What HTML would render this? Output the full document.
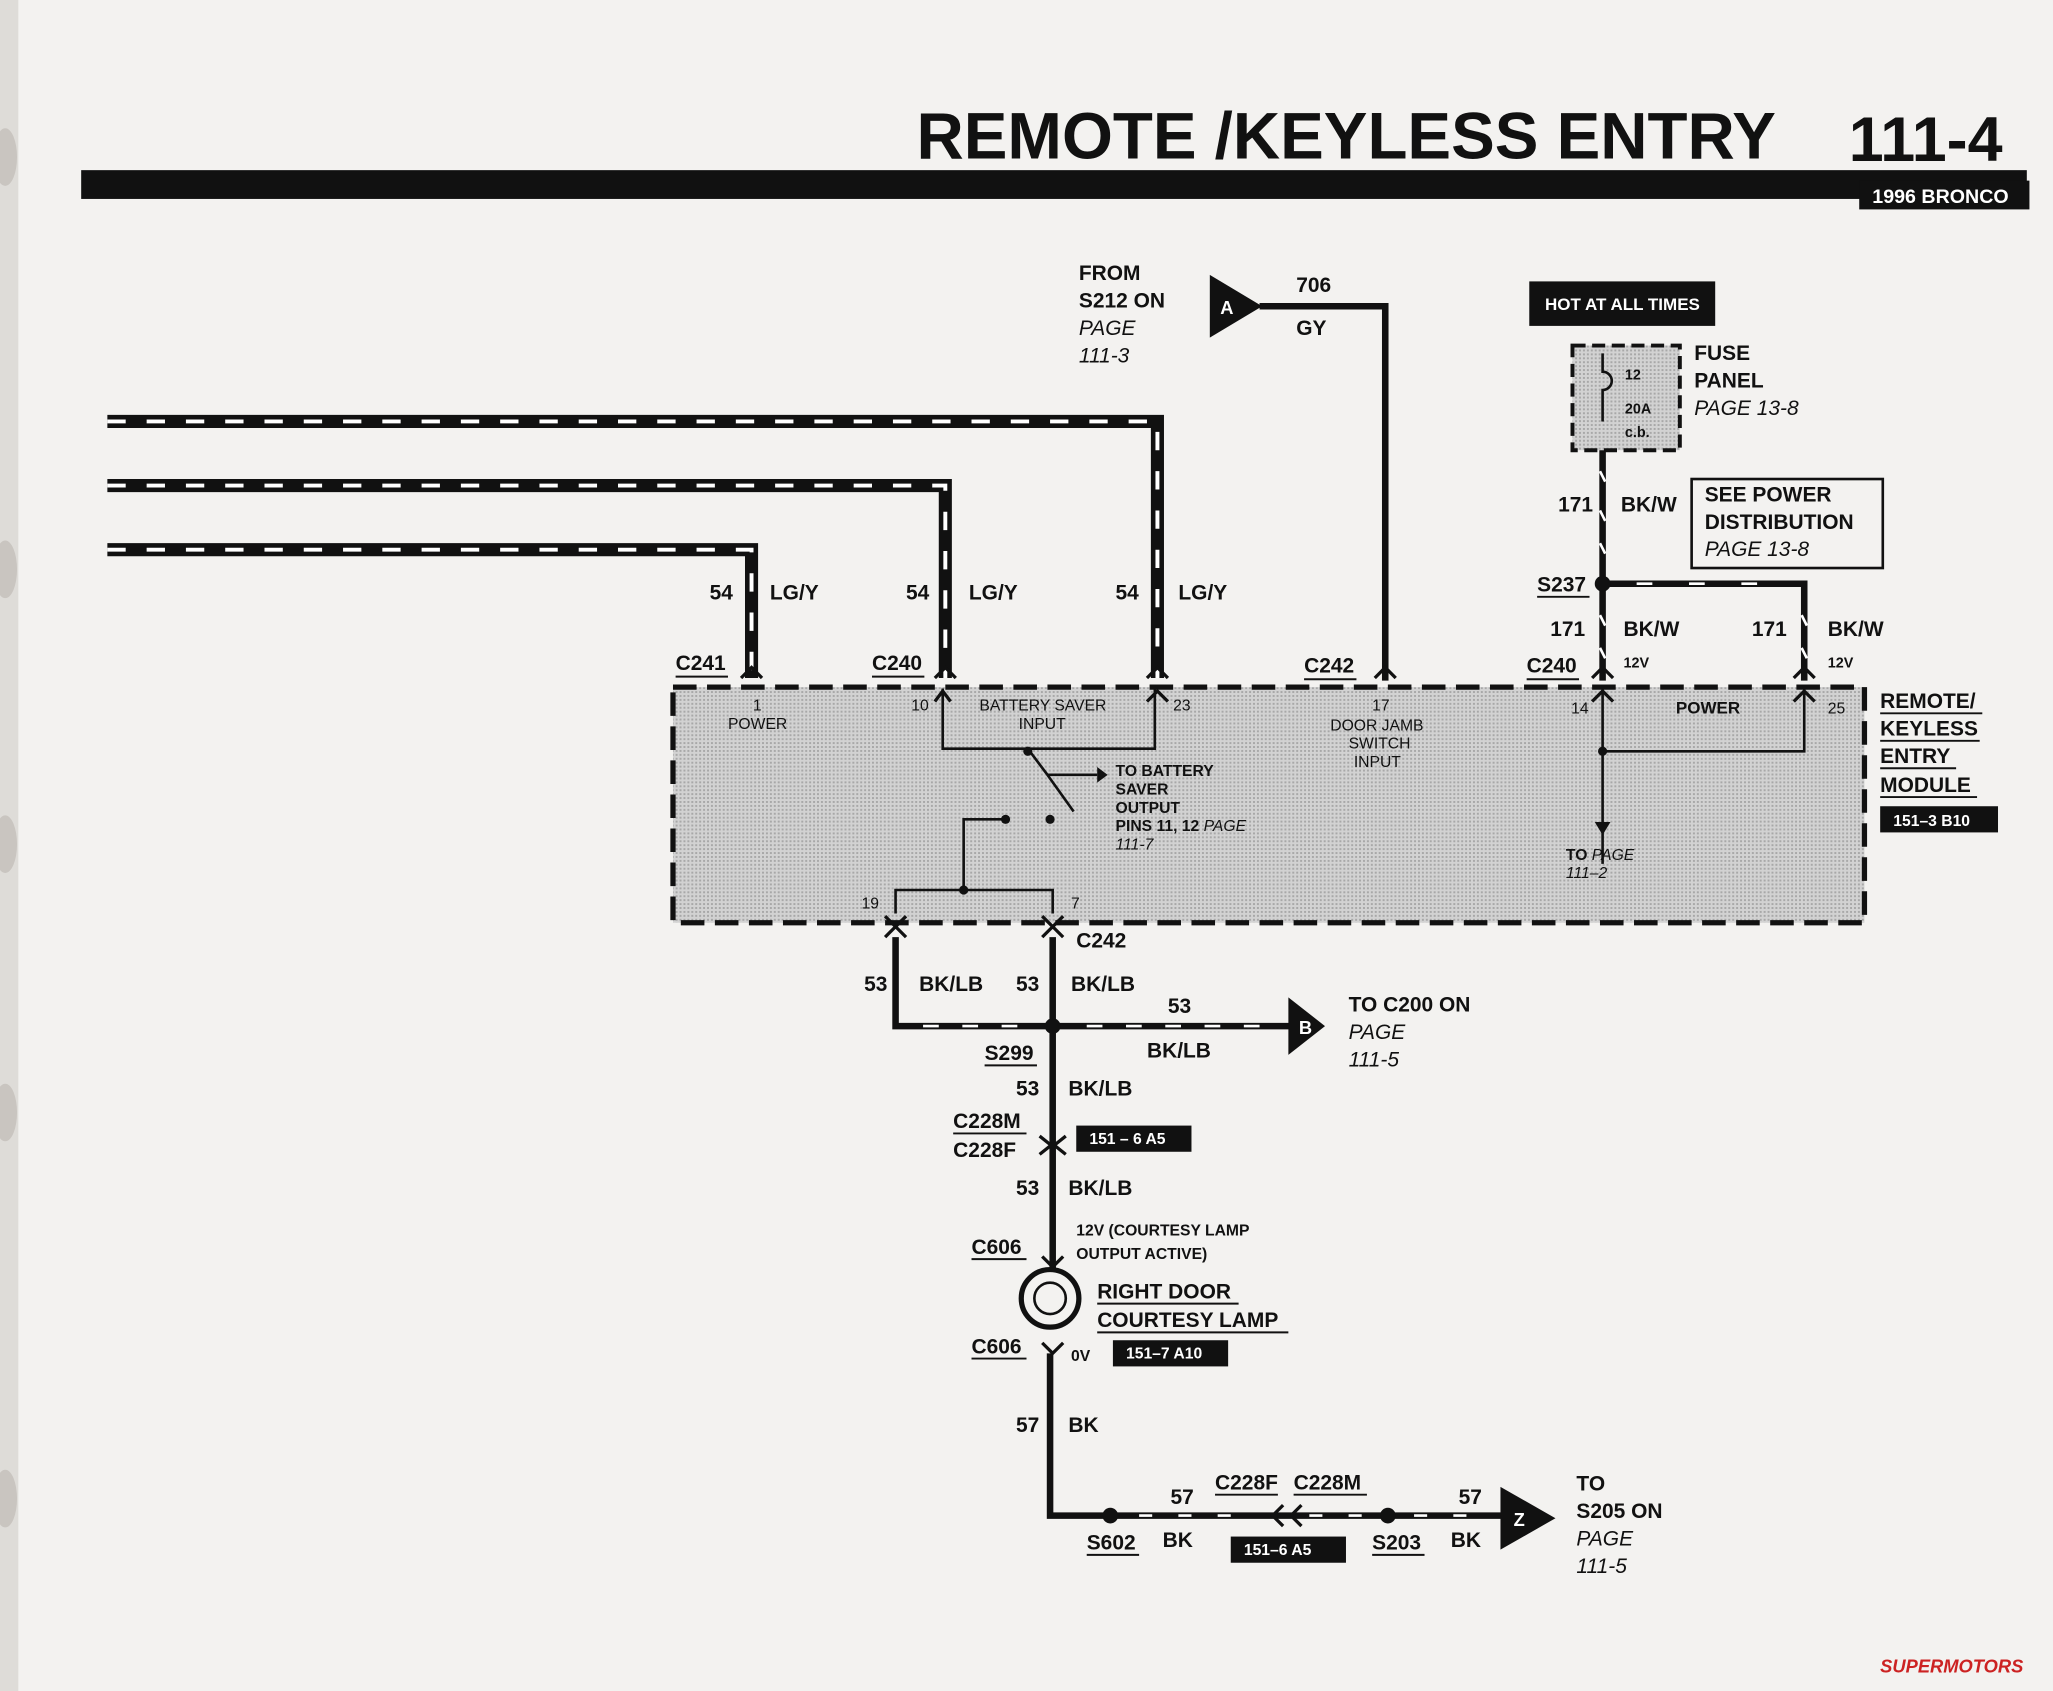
<!DOCTYPE html>
<html><head><meta charset="utf-8">
<style>
html,body{margin:0;padding:0;background:#f4f3f1;}
svg{display:block}
text{font-family:"Liberation Sans",Arial,sans-serif;font-weight:bold;fill:#111}
.i{font-style:italic;font-weight:normal}
.s{font-weight:normal}
</style></head><body>
<svg width="2053" height="1691" viewBox="0 0 1568 1292" preserveAspectRatio="none" xmlns="http://www.w3.org/2000/svg">
<defs>
<pattern id="dots" width="3" height="3" patternUnits="userSpaceOnUse"><rect width="3" height="3" fill="#d2d2d2"/><rect width="1.5" height="1.5" fill="#a8a8a8"/></pattern>
</defs>
<rect width="1568" height="1292" fill="#f3f2f0"/>
<rect width="14" height="1292" fill="#dedcd8"/>
<g fill="#c9c5c0"><ellipse cx="4" cy="120" rx="9" ry="22"/><ellipse cx="4" cy="435" rx="9" ry="22"/><ellipse cx="4" cy="645" rx="9" ry="22"/><ellipse cx="4" cy="850" rx="9" ry="22"/><ellipse cx="4" cy="1145" rx="9" ry="22"/></g>

<!-- header -->
<text x="700" y="121" font-size="50">REMOTE /KEYLESS ENTRY</text>
<text x="1412" y="123" font-size="48">111-4</text>
<rect x="62" y="130" width="1486" height="22" fill="#111"/>
<rect x="1420" y="138" width="130" height="22" fill="#111"/>
<text x="1430" y="155" font-size="15" style="fill:#fff">1996 BRONCO</text>

<!-- LG/Y wires -->
<g fill="none" stroke-linejoin="miter">
<path d="M82 322 H884 V518" stroke="#111" stroke-width="10"/>
<path d="M82 322 H884 V518" stroke="#fff" stroke-width="3" stroke-dasharray="14 16"/>
<path d="M82 371 H722 V518" stroke="#111" stroke-width="10"/>
<path d="M82 371 H722 V518" stroke="#fff" stroke-width="3" stroke-dasharray="14 16"/>
<path d="M82 420 H574 V518" stroke="#111" stroke-width="10"/>
<path d="M82 420 H574 V518" stroke="#fff" stroke-width="3" stroke-dasharray="14 16"/>
</g>
<g font-size="16"><text x="542" y="458">54</text><text x="588" y="458">LG/Y</text>
<text x="692" y="458">54</text><text x="740" y="458">LG/Y</text>
<text x="852" y="458">54</text><text x="900" y="458">LG/Y</text></g>
<g font-size="16"><text x="516" y="512">C241</text><text x="666" y="512">C240</text><text x="996" y="514">C242</text><text x="1166" y="514">C240</text></g>
<g stroke="#111" stroke-width="1.5"><path d="M516 517H556M666 517H706M996 519H1036M1166 519H1206"/></g>

<!-- module -->
<rect x="514" y="525" width="910" height="180" fill="url(#dots)" stroke="#111" stroke-width="4" stroke-dasharray="18 8"/>
<g font-size="12" class="s"><text x="575" y="543" class="s">1</text><text x="556" y="557" class="s">POWER</text>
<text x="696" y="543" class="s">10</text><text x="748" y="543" class="s">BATTERY SAVER</text><text x="778" y="557" class="s">INPUT</text>
<text x="896" y="543" class="s">23</text>
<text x="1048" y="543" class="s">17</text><text x="1016" y="558" class="s">DOOR JAMB</text><text x="1030" y="572" class="s">SWITCH</text><text x="1034" y="586" class="s">INPUT</text>
<text x="1200" y="545" class="s">14</text><text x="1396" y="545" class="s">25</text>
<text x="658" y="694" class="s">19</text><text x="818" y="694" class="s">7</text></g>
<text x="1280" y="545" font-size="13">POWER</text>
<g fill="none" stroke="#111" stroke-width="2">
<path d="M720 526V572H882V526M785 572L800 592M800 592L820 620M800 592H838"/>
<path d="M768 626H736V680M684 698V680H804V698"/>
<path d="M1224 526V660M1224 574H1378V526"/>
</g>
<g fill="#111"><circle cx="785" cy="574" r="3.5"/><circle cx="768" cy="626" r="3.5"/><circle cx="802" cy="626" r="3.5"/><circle cx="736" cy="680" r="3.5"/><circle cx="1224" cy="574" r="3.5"/>
<path d="M838 586l8 6-8 6z"/><path d="M1218 628l6 10 6-10z"/></g>
<g font-size="12"><text x="852" y="593">TO BATTERY</text><text x="852" y="607">SAVER</text><text x="852" y="621">OUTPUT</text><text x="852" y="635">PINS 11, 12 <tspan class="i">PAGE</tspan></text><text x="852" y="649" class="i">111-7</text>
<text x="1196" y="657">TO <tspan class="i">PAGE</tspan></text><text x="1196" y="671" class="i">111–2</text></g>

<!-- A / 706 GY -->
<path d="M924 210 L964 234 L924 258Z" fill="#111"/><text x="932" y="240" font-size="14" style="fill:#fff">A</text>
<path d="M962 234H1058V520" fill="none" stroke="#111" stroke-width="5"/>
<g font-size="16"><text x="824" y="214">FROM</text><text x="824" y="235">S212 ON</text><text x="824" y="256" class="i">PAGE</text><text x="824" y="277" class="i">111-3</text>
<text x="990" y="223">706</text><text x="990" y="256">GY</text></g>

<!-- fuse -->
<rect x="1168" y="215" width="142" height="34" fill="#111"/><text x="1180" y="237" font-size="13" style="fill:#fff">HOT AT ALL TIMES</text>
<rect x="1201" y="264" width="82" height="80" fill="url(#dots)" stroke="#111" stroke-width="3" stroke-dasharray="10 5"/>
<path d="M1224 270v14a4 4 0 0 1 0 14v24" fill="none" stroke="#111" stroke-width="2"/>
<g font-size="11"><text x="1241" y="290">12</text><text x="1241" y="316">20A</text><text x="1241" y="334">c.b.</text></g>
<g font-size="16"><text x="1294" y="275">FUSE</text><text x="1294" y="296">PANEL</text><text x="1294" y="317" class="i">PAGE 13-8</text></g>
<path d="M1224 344V520M1224 446H1378V520" fill="none" stroke="#111" stroke-width="5"/>
<g stroke="#fff" stroke-width="2"><path d="M1222 360l4 8M1222 390l4 8M1222 415l4 8M1222 470l4 8M1222 495l4 8M1376 470l4 8M1376 495l4 8M1250 446h12M1290 446h12M1330 446h12"/></g>
<circle cx="1224" cy="446" r="6" fill="#111"/>
<rect x="1292" y="366" width="146" height="68" fill="#f3f2f0" stroke="#111" stroke-width="2"/>
<g font-size="16"><text x="1302" y="383">SEE POWER</text><text x="1302" y="404">DISTRIBUTION</text><text x="1302" y="425" class="i">PAGE 13-8</text>
<text x="1190" y="391">171</text><text x="1238" y="391">BK/W</text><text x="1174" y="452">S237</text>
<text x="1184" y="486">171</text><text x="1240" y="486">BK/W</text><text x="1338" y="486">171</text><text x="1396" y="486">BK/W</text>
<text x="1436" y="541">REMOTE/</text><text x="1436" y="562">KEYLESS</text><text x="1436" y="583">ENTRY</text><text x="1436" y="605">MODULE</text></g>
<g font-size="11"><text x="1240" y="510">12V</text><text x="1396" y="510">12V</text></g>
<g stroke="#111" stroke-width="1.5"><path d="M1174 456H1214M1436 545H1514M1436 566H1512M1436 587H1494M1436 609H1510"/></g>
<rect x="1436" y="616" width="90" height="20" fill="#111"/><text x="1446" y="631" font-size="12" style="fill:#fff">151–3 B10</text>

<!-- arrow ends on module -->
<g fill="none" stroke="#111" stroke-width="2.5"><path d="M566 518l8-8 8 8M714 518l8-8 8 8M876 518l8-8 8 8M1050 518l8-8 8 8M1216 518l8-8 8 8M1370 518l8-8 8 8M876 536l8-8 8 8M714 536l6-8 6 8M1216 536l8-8 8 8M1370 536l8-8 8 8"/>
<path d="M676 700l8 8 8-8M796 700l8 8 8-8M676 716l8 -8 8 8M796 716l8 -8 8 8"/></g>

<!-- BK/LB -->
<path d="M684 716V784H990M804 716V1015" fill="none" stroke="#111" stroke-width="5"/>
<g stroke="#fff" stroke-width="2"><path d="M705 784h12M735 784h12M765 784h12M830 784h12M860 784h12M890 784h12M920 784h12M950 784h12"/></g>
<path d="M984 762L1012 784L984 806Z" fill="#111"/><text x="992" y="790" font-size="14" style="fill:#fff">B</text>
<circle cx="804" cy="784" r="6" fill="#111"/>
<g font-size="16"><text x="822" y="724">C242</text><text x="660" y="757">53</text><text x="702" y="757">BK/LB</text><text x="776" y="757">53</text><text x="818" y="757">BK/LB</text>
<text x="892" y="774">53</text><text x="876" y="808">BK/LB</text><text x="752" y="810">S299</text>
<text x="1030" y="773">TO C200 ON</text><text x="1030" y="794" class="i">PAGE</text><text x="1030" y="815" class="i">111-5</text>
<text x="776" y="837">53</text><text x="816" y="837">BK/LB</text><text x="728" y="862">C228M</text><text x="728" y="884">C228F</text>
<text x="776" y="913">53</text><text x="816" y="913">BK/LB</text><text x="742" y="958">C606</text>
<text x="838" y="992">RIGHT DOOR</text><text x="838" y="1014">COURTESY LAMP</text><text x="742" y="1034">C606</text>
<text x="776" y="1094">57</text><text x="816" y="1094">BK</text></g>
<g stroke="#111" stroke-width="1.5"><path d="M752 814H792M728 866H784M742 962H784M838 996H946M838 1018H984M742 1038H784"/></g>
<rect x="822" y="860" width="88" height="20" fill="#111"/><text x="832" y="874" font-size="12" style="fill:#fff">151 – 6 A5</text>
<g font-size="12"><text x="822" y="944">12V (COURTESY LAMP</text><text x="822" y="962">OUTPUT ACTIVE)</text><text x="818" y="1040">0V</text></g>
<g fill="none" stroke="#111" stroke-width="2.5"><path d="M794 868l10 8 10-8M794 882l10-8 10 8M796 960l8 8 8-8M796 1026l8 8 8-8"/></g>
<circle cx="802" cy="992" r="22" fill="#f3f2f0" stroke="#111" stroke-width="4"/><circle cx="802" cy="992" r="12" fill="none" stroke="#111" stroke-width="2"/>
<rect x="850" y="1024" width="88" height="20" fill="#111"/><text x="860" y="1038" font-size="12" style="fill:#fff">151–7 A10</text>

<!-- BK ground -->
<path d="M802 1034V1158H1150" fill="none" stroke="#111" stroke-width="5"/>
<g stroke="#fff" stroke-width="2"><path d="M870 1158h10M900 1158h10M930 1158h10M1000 1158h10M1030 1158h10M1080 1158h10M1110 1158h10"/></g>
<circle cx="848" cy="1158" r="6" fill="#111"/><circle cx="1060" cy="1158" r="6" fill="#111"/>
<path d="M1146 1136L1188 1160L1146 1184Z" fill="#111"/><text x="1156" y="1166" font-size="14" style="fill:#fff">Z</text>
<g fill="none" stroke="#111" stroke-width="2.5"><path d="M980 1150l-8 8 8 8M994 1150l-8 8 8 8"/></g>
<g font-size="16"><text x="830" y="1184">S602</text><text x="894" y="1149">57</text><text x="888" y="1182">BK</text>
<text x="928" y="1138">C228F</text><text x="988" y="1138">C228M</text><text x="1048" y="1184">S203</text><text x="1114" y="1149">57</text><text x="1108" y="1182">BK</text>
<text x="1204" y="1139">TO</text><text x="1204" y="1160">S205 ON</text><text x="1204" y="1181" class="i">PAGE</text><text x="1204" y="1202" class="i">111-5</text></g>
<g stroke="#111" stroke-width="1.5"><path d="M830 1188H870M928 1142H976M988 1142H1044M1048 1188H1088"/></g>
<rect x="940" y="1174" width="88" height="20" fill="#111"/><text x="950" y="1188" font-size="12" style="fill:#fff">151–6 A5</text>

<text x="1436" y="1278" font-size="14" font-style="italic" style="fill:#c22">SUPERMOTORS</text>
</svg>
</body></html>
